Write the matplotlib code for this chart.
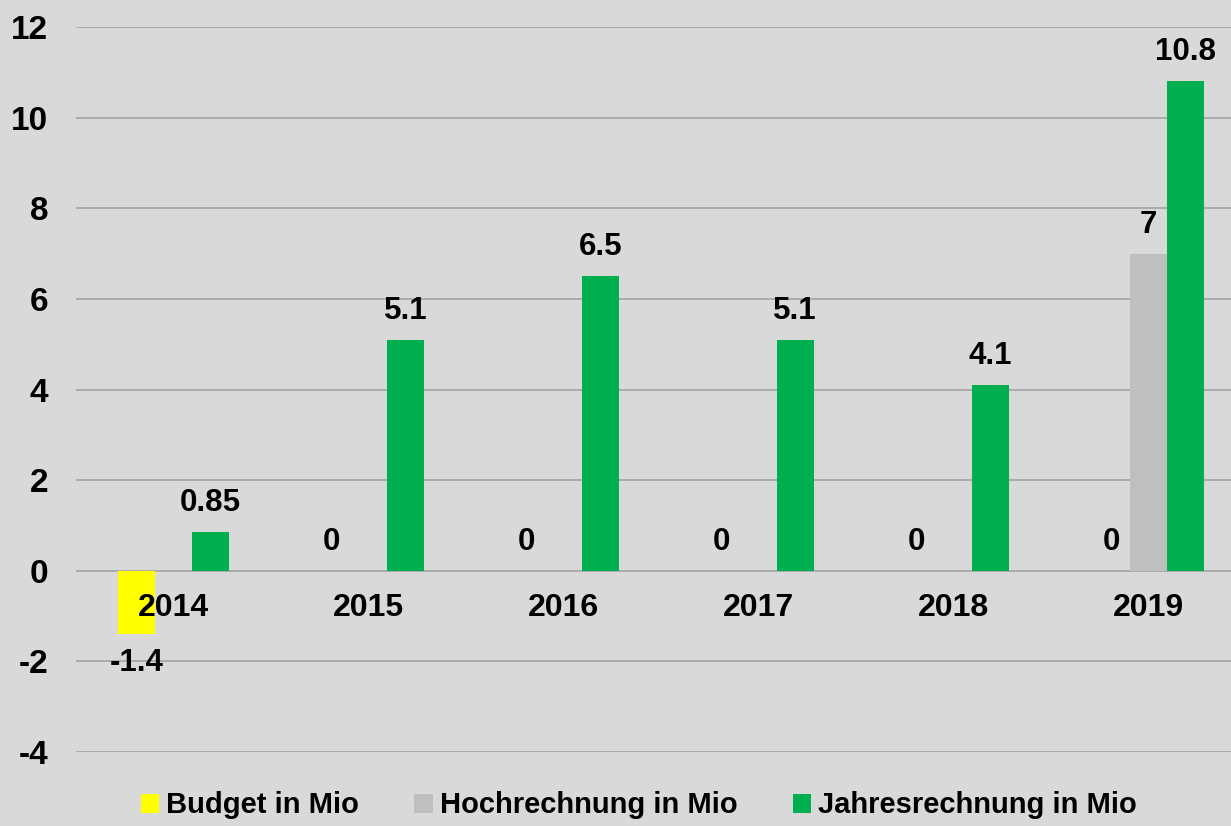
import numpy as np
import matplotlib.pyplot as plt
from matplotlib.patches import Patch

years = ["2014", "2015", "2016", "2017", "2018", "2019"]
budget = [-1.4, 0, 0, 0, 0, 0]
hochrechnung = [np.nan, np.nan, np.nan, np.nan, np.nan, 7]
jahresrechnung = [0.85, 5.1, 6.5, 5.1, 4.1, 10.8]
series_names = ["Budget in Mio", "Hochrechnung in Mio", "Jahresrechnung in Mio"]
colors = ["#ffff00", "#bfbfbf", "#00b050"]

plt.rcParams['font.family'] = ['Liberation Sans', 'DejaVu Sans']
plt.rcParams['font.weight'] = 'bold'

bg = "#d9d9d9"
fig = plt.figure(figsize=(12.31, 8.26), dpi=100, facecolor=bg)
ax = fig.add_axes([76 / 1231, 74 / 826, 1 - 76 / 1231, 725 / 826], facecolor=bg)

x = np.arange(len(years))
w = 0.19
ax.bar(x - w, budget, w, color=colors[0], zorder=3)
ax.bar(x, hochrechnung, w, color=colors[1], zorder=3)
ax.bar(x + w, jahresrechnung, w, color=colors[2], zorder=3)

ax.set_ylim(-4, 12)
ax.set_xlim(-0.5, (1231 - 173) / 195)
ax.set_yticks(np.arange(-4, 13, 2))
ax.set_yticklabels([str(v) for v in range(-4, 13, 2)], fontsize=24, fontweight='bold')
ax.tick_params(axis='y', length=0, pad=20)
ax.set_xticks([])
ax.grid(axis='y', color="#a8a8a8", linewidth=1.3, zorder=1)
for s in ax.spines.values():
    s.set_visible(False)

# year labels sit just under the zero line
for i, yr in enumerate(years):
    ax.text(i, -0.82, yr, ha='center', va='center', fontsize=23, fontweight='bold')


def fmt(v):
    return f"{v:g}"


def label(xpos, v):
    off = 29 if v >= 0 else -29
    ax.annotate(fmt(v), (xpos, v), xytext=(0, off), textcoords='offset pixels',
                ha='center', va='center', fontsize=22.5, fontweight='bold')


for i in range(len(years)):
    label(x[i] - w, budget[i])
    if not np.isnan(hochrechnung[i]):
        label(x[i], hochrechnung[i])
    label(x[i] + w, jahresrechnung[i])

handles = [Patch(facecolor=c, edgecolor='none') for c in colors]
fig.legend(handles, series_names, loc='center', bbox_to_anchor=(0.519, 0.025),
           ncol=3, frameon=False, handlelength=0.62, handleheight=0.62,
           handletextpad=0.25, columnspacing=1.9,
           prop={'size': 21, 'weight': 'bold'})

fig.savefig("out.png", dpi=100, facecolor=bg)
